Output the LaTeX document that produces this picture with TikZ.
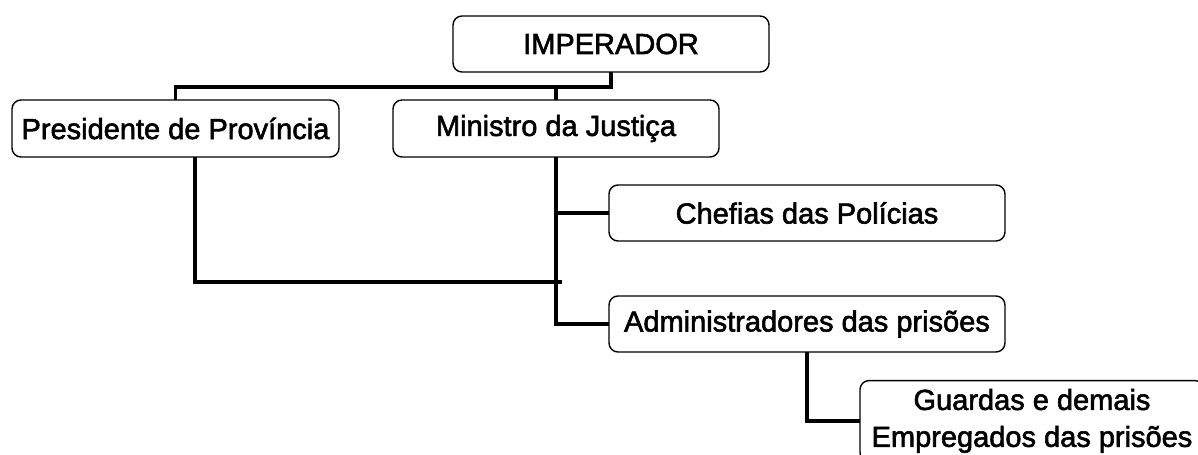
\documentclass[tikz,border=0pt]{standalone}
\usepackage{fontspec}
\setmainfont{Liberation Sans}
\newfontfamily\orgfont{Liberation Sans}[FakeBold=2]

\tikzstyle{orgbox}=[draw,line width=0.8pt,rounded corners=0.18cm,inner sep=2pt,outer sep=0pt,align=center,font=\orgfont\fontsize{16.5}{21}\selectfont]
\tikzstyle{elo}=[line width=2.2pt]

\begin{document}
\begin{tikzpicture}
\useasboundingbox (0,0) rectangle (23.96,-9.1);
\clip (0,0) rectangle (23.96,-9.1);

\node[orgbox,minimum width=6.32cm,minimum height=1.12cm] (imp) at (12.22,-0.88) {IMPERADOR};
\node[orgbox,minimum width=6.54cm,minimum height=1.14cm] (pres) at (3.51,-2.57) {Presidente de Província};
\node[orgbox,minimum width=6.52cm,minimum height=1.14cm] (min) at (11.12,-2.57) {Ministro da Justiça};
\node[orgbox,minimum width=7.92cm,minimum height=1.12cm] (chef) at (16.14,-4.26) {Chefias das Polícias};
\node[orgbox,minimum width=7.92cm,minimum height=1.12cm] (adm) at (16.14,-6.48) {Administradores das prisões};
\node[orgbox,minimum width=6.88cm,minimum height=1.6cm] (guard) at (20.64,-8.42) {\raisebox{-3pt}{\begin{tabular}{@{}c@{}}Guardas e demais\\Empregados das prisões\end{tabular}}};

\coordinate (fim) at (11.24,-5.64);

\draw[elo] (imp.south) -- ++(0,-0.3) coordinate (j) -| (pres.north);
\draw[elo] (min.north) -- (min.north |- j);
\draw[elo] (min.south) |- (adm.west);
\draw[elo] (min.south |- chef.west) -- (chef.west);
\draw[elo] ([xshift=0.39cm]pres.south) |- (fim);
\draw[elo] (adm.south) |- (guard.west);

\end{tikzpicture}
\end{document}
